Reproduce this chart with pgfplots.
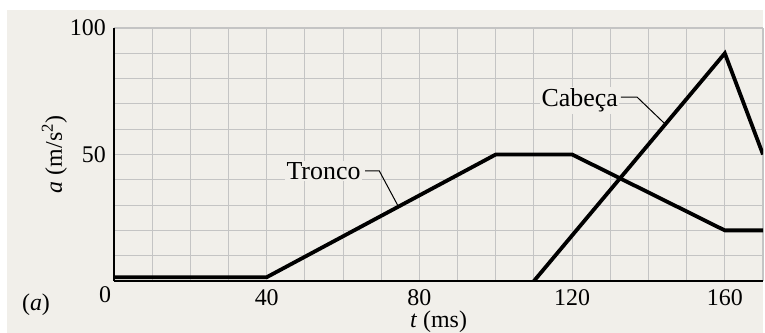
\documentclass[border=0pt]{standalone}
\usepackage{pgfplots}
\pgfplotsset{compat=1.18}
\usepackage{fontspec}
\setmainfont{Liberation Serif}
\definecolor{bg}{HTML}{F1EFEA}
\definecolor{gridc}{HTML}{C4C4C4}
\begin{document}
\fontsize{24}{28}\selectfont
\begin{tikzpicture}
\path[use as bounding box] (0bp,0bp) rectangle (765bp,333bp);
\fill[white] (0bp,0bp) rectangle (765bp,333bp);
\fill[bg] (7bp,0bp) rectangle (763bp,323bp);
\begin{axis}[
  at={(114bp,52bp)}, anchor=south west,
  scale only axis, width=649bp, height=253bp,
  xmin=0, xmax=170, ymin=0, ymax=100,
  axis lines*=left,
  axis line style={-, line width=2bp, black},
  xtick={40,80,120,160}, ytick={50,100},
  minor xtick={0,10,...,170}, minor ytick={0,10,...,100},
  grid=both,
  major grid style={gridc, line width=1.1bp},
  minor grid style={gridc, line width=1.1bp},
  major tick length=0pt, minor tick length=0pt,
  tick label style={font=\fontsize{24}{28}\selectfont},
  /pgf/number format/assume math mode=true,
  xlabel={\textit{t} (ms)},
  xlabel style={at={(axis description cs:0.5,-0.182)}, anchor=base, font=\fontsize{24}{28}\selectfont},
  ylabel={\textit{a} (m/s\textsuperscript{2})},
  ylabel style={at={(axis description cs:-0.092,0.5)}, anchor=center, font=\fontsize{24}{28}\selectfont},
  clip mode=individual,
]
\addplot[black, line width=3.8bp, line join=miter] coordinates {
  (0,1.5) (40,1.5) (100,50) (120,50) (160,20) (170,20)
};
\addplot[black, line width=3.8bp, line join=miter] coordinates {
  (110,0) (160,90) (170,50)
};
\draw[black, line width=1bp] (axis cs:65.8,43.5) -- (axis cs:69.5,43.5) -- (axis cs:74.5,29.4);
\draw[black, line width=1bp] (axis cs:132.8,72.7) -- (axis cs:137,72.7) -- (axis cs:144.4,62);
\node[anchor=base east, fill=bg, inner sep=1.5bp, font=\fontsize{26}{30}\selectfont] at (axis cs:65,40.3) {Tronco};
\node[anchor=base east, fill=bg, inner sep=1.5bp, font=\fontsize{26}{30}\selectfont] at (axis cs:132.4,68.8) {Cabeça};
\node[anchor=center, xshift=-9bp, yshift=-14bp] at (axis cs:0,0) {0};
\end{axis}
\node[anchor=center] at (36bp,28bp) {(\textit{a})};
\end{tikzpicture}
\end{document}
